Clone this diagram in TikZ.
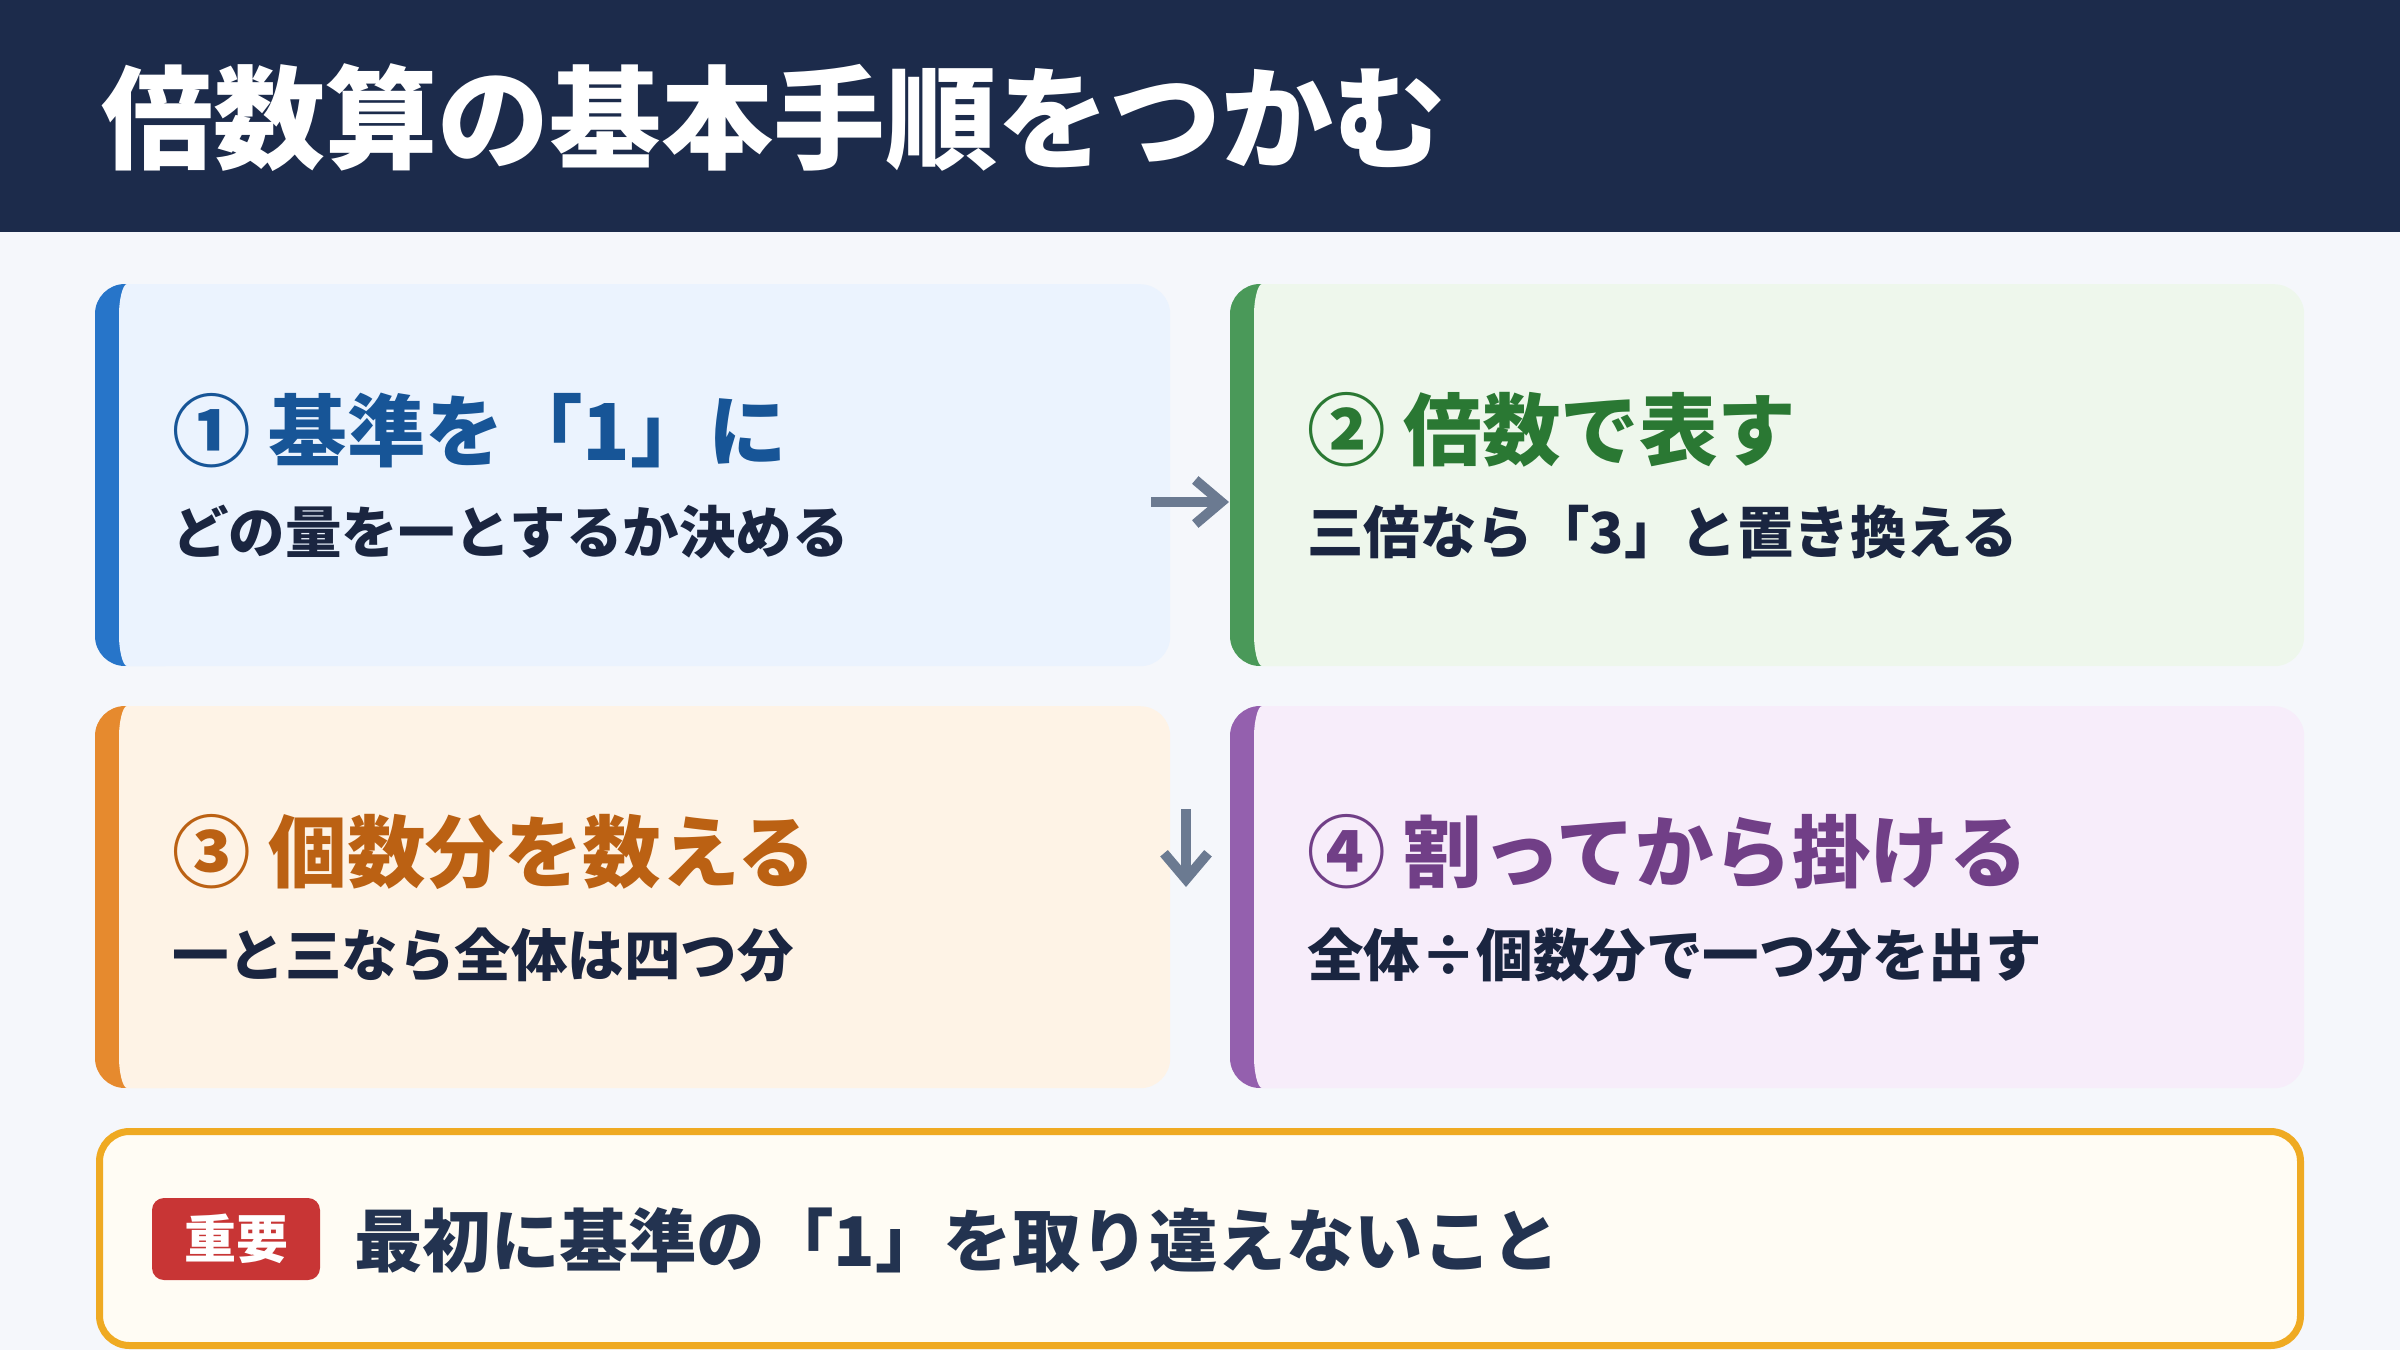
\documentclass[tikz,border=0pt]{standalone}
\usepackage{fontspec}
\setmainfont{Noto Sans CJK JP}
\usetikzlibrary{arrows.meta}
\definecolor{hdr}{HTML}{1C2B4B}
\definecolor{pagebg}{HTML}{F5F7FB}
\definecolor{aA}{HTML}{2775C9}\definecolor{bA}{HTML}{EBF3FE}\definecolor{tA}{HTML}{175597}
\definecolor{aB}{HTML}{4A9959}\definecolor{bB}{HTML}{EEF7EC}\definecolor{tB}{HTML}{2A7833}
\definecolor{aC}{HTML}{E68A2E}\definecolor{bC}{HTML}{FEF3E6}\definecolor{tC}{HTML}{BB6113}
\definecolor{aD}{HTML}{9460AE}\definecolor{bD}{HTML}{F7EDFA}\definecolor{tD}{HTML}{713F87}
\definecolor{subtxt}{HTML}{1A2540}
\definecolor{arrowc}{HTML}{6B7A91}
\definecolor{noteborder}{HTML}{EFAA22}
\definecolor{notefill}{HTML}{FFFCF4}
\definecolor{badgered}{HTML}{C83535}
\definecolor{msgtxt}{HTML}{233350}
\tikzset{
  cardbox/.style={rectangle, rounded corners=30, inner sep=0pt, draw=none},
  cardtitle/.style={anchor=west, inner sep=0pt, font=\fontsize{78.5}{92}\selectfont\bfseries},
  cardsub/.style={anchor=west, inner sep=0pt, text=subtxt, font=\fontsize{56.5}{68}\selectfont\bfseries},
  flowarrow/.style={draw=arrowc, line width=10pt, -{Straight Barb[length=26pt,width=44pt]}},
}
\newcommand\mycard[7]{%
  \node[cardbox, fill=#7, minimum width=#4, minimum height=#5, anchor=north west] (#1) at (#2,#3) {};
  \begin{scope}
    \clip[rounded corners=30] (#2,#3) rectangle ({#2+#4},{#3+#5});
    \fill[#6] (#2,#3) rectangle ({#2+60},{#3+#5});
    \fill[#7] ({#2+32},#3) -- ({#2+70},#3) -- ({#2+70},{#3+#5}) -- ({#2+32},{#3+#5})
      .. controls ({#2+27.6},{#3+#5}) and ({#2+24},{#3+#5-16.5}) .. ({#2+24},{#3+#5-30})
      -- ({#2+24},{#3+30})
      .. controls ({#2+24},{#3+16.5}) and ({#2+27.6},#3) .. cycle;
  \end{scope}}
\begin{document}
\begin{tikzpicture}[x=1pt,y=-1pt]
\useasboundingbox (0,0) rectangle (2400,1350);
\fill[pagebg] (0,0) rectangle (2400,1350);
\fill[hdr] (0,0) rectangle (2400,232);
\node[anchor=west, inner sep=0pt, text=white, font=\fontsize{112}{130}\selectfont\bfseries] (title) at (101,118) {倍数算の基本手順をつかむ};

\mycard{c1}{95}{284}{1075}{382}{aA}{bA}
\mycard{c2}{1230}{284}{1074}{382}{aB}{bB}
\mycard{c3}{95}{706}{1075}{382}{aC}{bC}
\mycard{c4}{1230}{706}{1074}{382}{aD}{bD}

\node[cardtitle, text=tA] (t1) at (172,430) {① 基準を「1」に};
\node[cardsub] (s1) at (172,532) {どの量を一とするか決める};
\node[cardtitle, text=tB] (t2) at (1307,430) {② 倍数で表す};
\node[cardsub] (s2) at (1307,532) {三倍なら「3」と置き換える};
\node[cardtitle, text=tC] (t3) at (172,852) {③ 個数分を数える};
\node[cardsub] (s3) at (172,955) {一と三なら全体は四つ分};
\node[cardtitle, text=tD] (t4) at (1307,852) {④ 割ってから掛ける};
\node[cardsub] (s4) at (1307,955) {全体÷個数分で一つ分を出す};

\coordinate (a1s) at (1151,502);
\coordinate (a1e) at (1229,502);
\draw[flowarrow] (a1s) -- (a1e);
\coordinate (a2s) at (1186,809);
\coordinate (a2e) at (1186,887);
\draw[flowarrow] (a2s) -- (a2e);

\node[rectangle, rounded corners=30, draw=noteborder, line width=7pt, fill=notefill,
      minimum width=2201, minimum height=214, inner sep=0pt] (note) at (1200,1238.5) {};
\node[rectangle, rounded corners=12, fill=badgered, minimum width=168, minimum height=82,
      inner sep=0pt, text=white, font=\fontsize{52}{62}\selectfont\bfseries] (badge) at (236,1239) {重要};
\node[anchor=west, inner sep=0pt, text=msgtxt, font=\fontsize{68.5}{82}\selectfont\bfseries] (msg) at (354,1240) {最初に基準の「1」を取り違えないこと};
\end{tikzpicture}
\end{document}
